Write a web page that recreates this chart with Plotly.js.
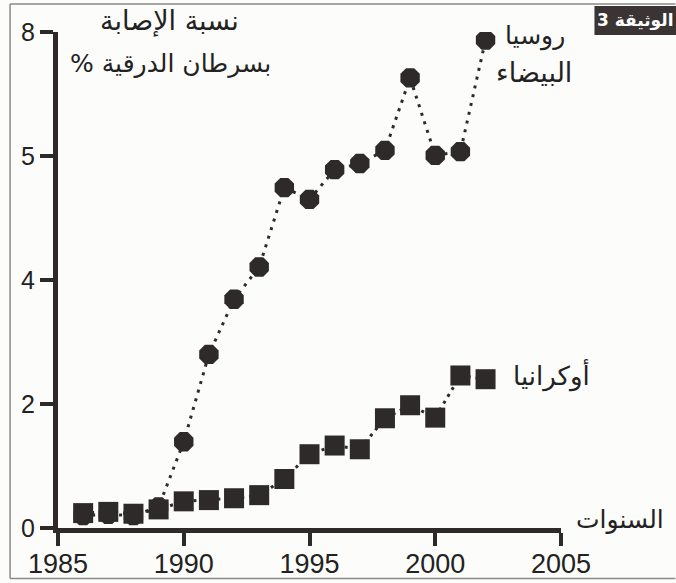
<!DOCTYPE html>
<html>
<head>
<meta charset="utf-8">
<script src="https://cdn.plot.ly/plotly-3.0.1.min.js"></script>
<style>
  html, body { margin: 0; padding: 0; background: #fcfcfa; }
  #chart { width: 676px; height: 583px; }
</style>
</head>
<body>
<div id="chart"></div>
<script>
// ---- data ----
const years = [1986, 1987, 1988, 1989, 1990, 1991, 1992, 1993, 1994, 1995, 1996, 1997, 1998, 1999, 2000, 2001, 2002];
const belarus = [0.2, 0.22, 0.2, 0.34, 1.39, 2.8, 3.69, 4.21, 5.49, 5.3, 5.78, 5.88, 6.09, 7.26, 6.01, 6.07, 7.87];
const ukraine = [0.24, 0.26, 0.23, 0.3, 0.43, 0.45, 0.48, 0.53, 0.79, 1.19, 1.33, 1.27, 1.77, 1.98, 1.78, 2.46, 2.4];
const xTickVals = [1985, 1990, 1995, 2000, 2005];
const yTickVals = [0, 2, 4, 6, 8];
const yTickText = ['0', '2', '4', '5', '8'];
const yTitleLine1 = 'نسبة الإصابة';
const yTitleLine2 = '% بسرطان الدرقية';
const xTitle = 'السنوات';
const belarusLabel1 = 'روسيا';
const belarusLabel2 = 'البيضاء';
const ukraineLabel = 'أوكرانيا';
const docLabel = '3 الوثيقة';

const ink = '#2e2a2a';
const arab = 'DejaVu Sans, Noto Sans, sans-serif';

// plot area geometry (px) for paper-coordinate placement of text
const L = 58, W = 503.5, T = 32, H = 496.5;
const px = v => (v - L) / W;
const py = v => (T + H - v) / H;

const traces = [
  {
    x: years, y: ukraine, type: 'scatter', mode: 'lines+markers',
    line: { color: ink, width: 3, dash: '3px,5px' },
    marker: { symbol: 'square', size: 20, color: ink },
    hoverinfo: 'skip'
  },
  {
    x: years, y: belarus, type: 'scatter', mode: 'lines+markers',
    line: { color: ink, width: 3, dash: '3px,6px' },
    marker: { symbol: 'octagon', size: 21, color: ink },
    hoverinfo: 'skip'
  }
];

const axisCommon = {
  showline: true, linewidth: 5, linecolor: ink,
  ticks: 'outside', ticklen: 13, tickwidth: 4, tickcolor: ink,
  showgrid: false, zeroline: false, fixedrange: true
};

const layout = {
  width: 676, height: 583,
  margin: { l: L, r: 676 - L - W, t: T, b: 583 - T - H, pad: 0 },
  paper_bgcolor: '#fcfcfa', plot_bgcolor: 'rgba(0,0,0,0)',
  showlegend: false,
  xaxis: Object.assign({}, axisCommon, {
    range: [1985, 2005], tickvals: xTickVals, ticklabelstandoff: -5,
    tickfont: { family: 'Liberation Sans, Arial, sans-serif', size: 27, color: '#222' }
  }),
  yaxis: Object.assign({}, axisCommon, {
    range: [0, 8], tickvals: yTickVals, ticktext: yTickText,
    tickfont: { family: 'Liberation Sans, Arial, sans-serif', size: 25, color: '#222' }
  }),
  shapes: [
    { type: 'line', xref: 'paper', yref: 'paper', x0: px(10), x1: px(10), y0: py(579), y1: py(4), line: { color: '#8a8a8a', width: 1.5 } },
    { type: 'line', xref: 'paper', yref: 'paper', x0: px(10), x1: px(676), y0: py(4), y1: py(4), line: { color: '#8a8a8a', width: 1.5 } },
    { type: 'line', xref: 'paper', yref: 'paper', x0: px(10), x1: px(676), y0: py(579), y1: py(579), line: { color: '#8a8a8a', width: 1.5 } },
    { type: 'rect', xref: 'paper', yref: 'paper', x0: px(595), x1: px(677), y0: py(35), y1: py(6), fillcolor: '#3a3434', line: { width: 0 } }
  ],
  annotations: [
    { text: yTitleLine1, xref: 'paper', yref: 'paper', x: px(170), y: py(21), xanchor: 'center', yanchor: 'middle', showarrow: false, font: { family: arab, size: 27, color: '#222' } },
    { text: yTitleLine2, xref: 'paper', yref: 'paper', x: px(171), y: py(64), xanchor: 'center', yanchor: 'middle', showarrow: false, font: { family: arab, size: 25, color: '#222' } },
    { text: belarusLabel1, xref: 'paper', yref: 'paper', x: px(568), y: py(36), xanchor: 'right', yanchor: 'middle', showarrow: false, font: { family: arab, size: 25, color: '#222' } },
    { text: belarusLabel2, xref: 'paper', yref: 'paper', x: px(534), y: py(73), xanchor: 'center', yanchor: 'middle', showarrow: false, font: { family: arab, size: 27, color: '#222' } },
    { text: ukraineLabel, xref: 'paper', yref: 'paper', x: px(552), y: py(375), xanchor: 'center', yanchor: 'middle', showarrow: false, font: { family: arab, size: 26, color: '#222' } },
    { text: xTitle, xref: 'paper', yref: 'paper', x: px(621), y: py(520), xanchor: 'center', yanchor: 'middle', showarrow: false, font: { family: arab, size: 25, color: '#222' } },
    { text: docLabel, xref: 'paper', yref: 'paper', x: px(636), y: py(20.5), xanchor: 'center', yanchor: 'middle', showarrow: false, font: { family: arab, size: 17, color: '#ffffff', weight: 'bold' } }
  ]
};

Plotly.newPlot('chart', traces, layout, { staticPlot: true, displayModeBar: false });
</script>
</body>
</html>
